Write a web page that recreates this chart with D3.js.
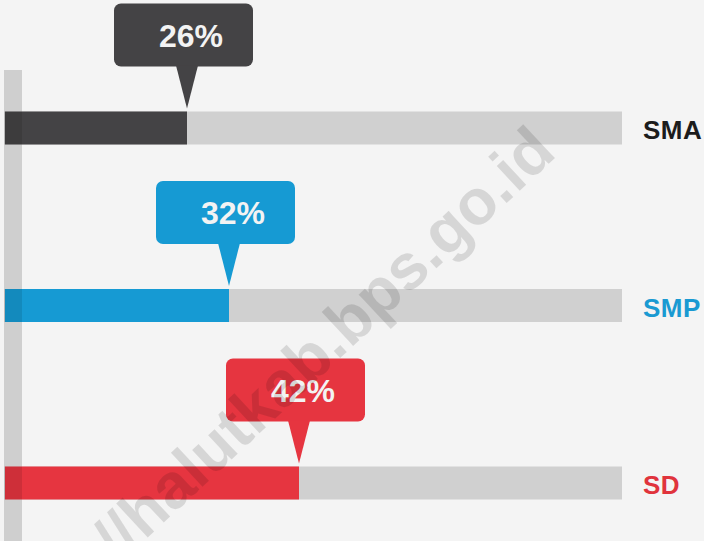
<!DOCTYPE html>
<html>
<head>
<meta charset="utf-8">
<script src="https://cdn.jsdelivr.net/npm/d3@7/dist/d3.min.js"></script>
<style>
  html, body { margin: 0; padding: 0; background: #f4f4f4; }
  svg { display: block; }
</style>
</head>
<body>
<svg id="chart" width="704" height="541"></svg>
<script>
// ---- data ----
const categories = ["SMA", "SMP", "SD"];
const values = [26, 32, 42];            // percent
const valueLabels = ["26%", "32%", "42%"];
const colors = ["#444345", "#169ad3", "#e63540"];
const labelColors = ["#1c1c1c", "#1a9ad2", "#e0333c"];
const watermark = "https://halutkab.bps.go.id";

const W = 704, H = 541;
const svg = d3.select("#chart");

svg.append("rect").attr("width", W).attr("height", H).attr("fill", "#f4f4f4");

const x = d3.scaleLinear().domain([0, 100]).range([5, 705]);
const y = d3.scalePoint().domain(categories).range([128, 483]);
const barH = 33;
const trackEnd = 622;

// vertical axis bar (behind)
svg.append("rect")
  .attr("x", 4).attr("y", 70).attr("width", 18).attr("height", H - 70)
  .attr("fill", "#cfcfcf");

const g = svg.append("g");

// tracks
g.selectAll("rect.track").data(categories).join("rect")
  .attr("class", "track")
  .attr("x", x(0)).attr("y", d => y(d) - barH / 2)
  .attr("width", trackEnd - x(0)).attr("height", barH)
  .attr("fill", "#d0d0d0");

// bars
g.selectAll("rect.bar").data(categories).join("rect")
  .attr("class", "bar")
  .attr("x", x(0)).attr("y", d => y(d) - barH / 2)
  .attr("width", (d, i) => x(values[i]) - x(0)).attr("height", barH)
  .attr("fill", (d, i) => colors[i]);

// vertical bar shading over the bars
g.selectAll("rect.shade").data(categories).join("rect")
  .attr("class", "shade")
  .attr("x", 4).attr("y", d => y(d) - barH / 2)
  .attr("width", 18).attr("height", barH)
  .attr("fill", "#000").attr("opacity", 0.1);

// callouts
const cw = 139, ch = 63;
const callouts = g.selectAll("g.callout").data(categories).join("g").attr("class", "callout");
callouts.append("rect")
  .attr("x", (d, i) => x(values[i]) - 73)
  .attr("y", d => y(d) - barH / 2 - 108)
  .attr("width", cw).attr("height", ch)
  .attr("rx", 7).attr("ry", 7)
  .attr("fill", (d, i) => colors[i]);
callouts.append("path")
  .attr("d", (d, i) => {
    const xe = x(values[i]);
    const top = y(d) - barH / 2 - 108 + ch - 1;
    const tip = y(d) - barH / 2 - 3;
    return `M${xe - 11},${top} L${xe + 11},${top} L${xe},${tip} Z`;
  })
  .attr("fill", (d, i) => colors[i]);
callouts.append("text")
  .attr("x", (d, i) => x(values[i]) + 4)
  .attr("y", d => y(d) - barH / 2 - 108 + 43)
  .attr("text-anchor", "middle")
  .attr("font-family", "'Liberation Sans', Arial, sans-serif")
  .attr("font-weight", "bold")
  .attr("font-size", 32)
  .attr("fill", "#f3f3f3")
  .text((d, i) => valueLabels[i]);

// category labels
g.selectAll("text.cat").data(categories).join("text")
  .attr("class", "cat")
  .attr("x", 643)
  .attr("y", d => y(d) + 11)
  .attr("font-family", "'Liberation Sans', Arial, sans-serif")
  .attr("font-weight", "bold")
  .attr("font-size", 26)
  .attr("letter-spacing", 0.5)
  .attr("fill", (d, i) => labelColors[i])
  .text(d => d);

// watermark
svg.append("text")
  .attr("transform", "translate(558,155) rotate(-43)")
  .attr("text-anchor", "end")
  .attr("font-family", "'Liberation Sans', Arial, sans-serif")
  .attr("font-weight", "bold")
  .attr("font-size", 64)
  .attr("fill", "#000")
  .attr("fill-opacity", 0.12)
  .text(watermark);
</script>
</body>
</html>
